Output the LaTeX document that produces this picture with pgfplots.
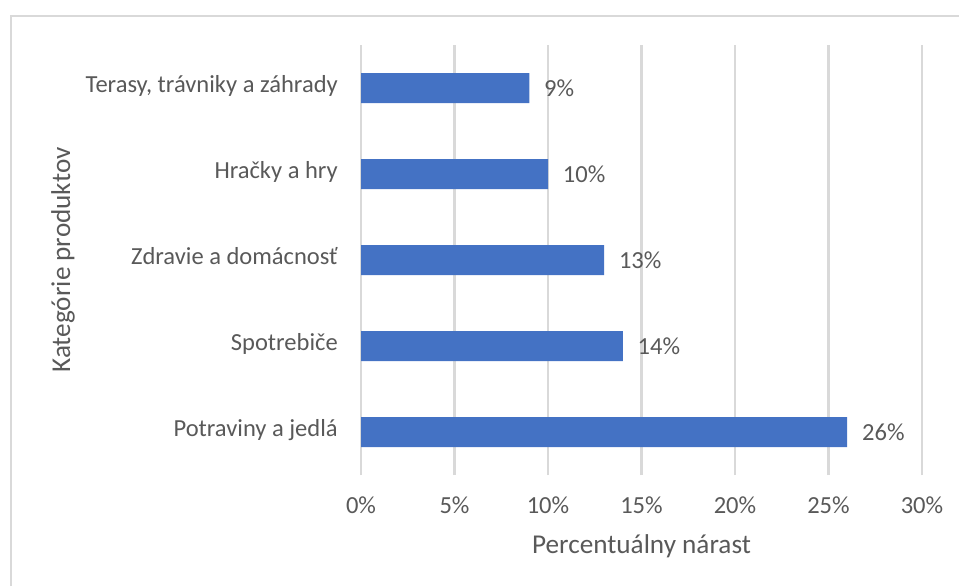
\documentclass[border=0pt]{standalone}
\usepackage{pgfplots}
\pgfplotsset{compat=1.18}
\usepackage{fontspec}
\setmainfont{Carlito}
\definecolor{barblue}{HTML}{4472C4}
\definecolor{gridgray}{HTML}{D9D9D9}
\definecolor{txtgray}{HTML}{595959}
\begin{document}
\begin{tikzpicture}
\useasboundingbox (0pt,0pt) rectangle (719.25pt,439.5pt);
\draw[gridgray, line width=1.5pt] (8.25pt,0pt) -- (8.25pt,427.5pt) -- (719.25pt,427.5pt);
\begin{axis}[
  at={(270.75pt,83.25pt)}, anchor=south west,
  scale only axis,
  width=420.75pt, height=322.5pt,
  xbar, bar width=22.5pt,
  xmin=0, xmax=30,
  ymin=-0.5, ymax=4.5,
  xtick={0,5,...,30},
  xticklabel={\pgfmathprintnumber{\tick}\%},
  ytick={0,1,2,3,4},
  yticklabels={Potraviny a jedlá, Spotrebiče, Zdravie a domácnosť, Hračky a hry, {Terasy, trávniky a záhrady}},
  major tick length=0pt,
  tick style={draw=none},
  axis line style={draw=none},
  xmajorgrids, ymajorgrids=false,
  major grid style={gridgray, line width=1.9pt},
  /pgf/number format/assume math mode=true,
  tick label style={font=\fontsize{18.4}{20}\selectfont, text=txtgray, inner sep=0pt},
  xticklabel style={anchor=base, yshift=-28.5pt},
  yticklabel style={anchor=base east, xshift=-17.25pt, yshift=-0.33em},
  xlabel={Percentuálny nárast},
  ylabel={Kategórie produktov},
  label style={font=\fontsize{20.4}{22}\selectfont, text=txtgray, inner sep=0pt},
  xlabel style={at={(axis description cs:0.5,-0.1837)}, anchor=base},
  ylabel style={at={(axis description cs:-0.5187,0.5)}, anchor=base},
  nodes near coords={\pgfmathprintnumber{\pgfplotspointmeta}\%},
  nodes near coords style={font=\fontsize{18.4}{20}\selectfont, text=txtgray, anchor=west, inner sep=0pt, xshift=11pt},
  point meta=x,
  clip=false,
]
\addplot[fill=barblue, draw=none] coordinates {(26,0) (14,1) (13,2) (10,3) (9,4)};
\end{axis}
\end{tikzpicture}
\end{document}
